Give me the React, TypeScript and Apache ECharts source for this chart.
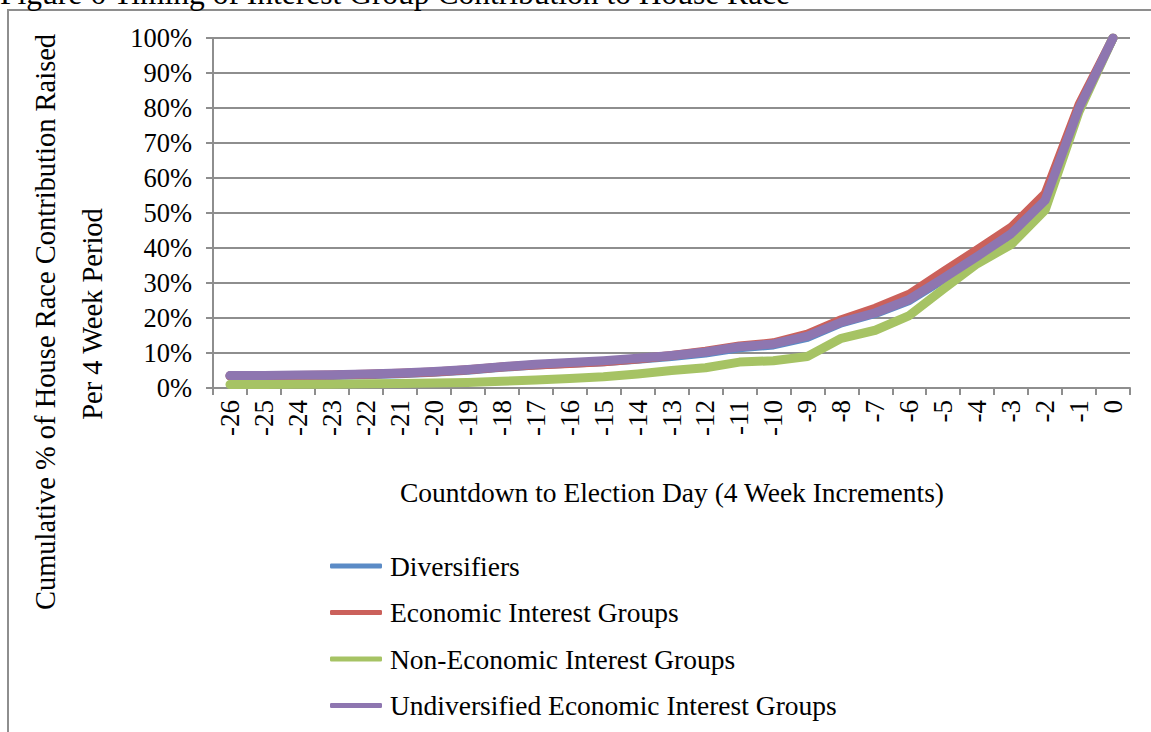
import React, { useEffect, useRef } from "react";
import * as echarts from "echarts";

// Countdown periods (4-week increments before election day)
const periods: string[] = [
  "-26", "-25", "-24", "-23", "-22", "-21", "-20", "-19", "-18", "-17", "-16", "-15", "-14",
  "-13", "-12", "-11", "-10", "-9", "-8", "-7", "-6", "-5", "-4", "-3", "-2", "-1", "0",
];

// Cumulative % of house race contributions raised
const diversifiers: number[] = [
  3.4, 3.4, 3.5, 3.6, 3.8, 4.1, 4.5, 5.1, 5.9, 6.6, 7.1, 7.5, 8.2, 9.0, 10.0, 11.5, 12.3,
  14.5, 18.6, 21.3, 25.0, 31.0, 37.3, 43.8, 53.3, 80, 100,
];
const economic: number[] = [
  3.5, 3.5, 3.6, 3.7, 3.9, 4.2, 4.6, 5.2, 6.0, 6.6, 7.0, 7.5, 8.3, 9.3, 10.5, 12.0, 12.9,
  15.4, 19.5, 22.8, 26.8, 33.2, 39.5, 45.9, 55.5, 81, 100,
];
const nonEconomic: number[] = [
  1.0, 1.0, 1.1, 1.1, 1.2, 1.3, 1.4, 1.6, 1.9, 2.3, 2.7, 3.2, 4.0, 5.0, 5.8, 7.4, 7.8,
  9.0, 14.2, 16.5, 20.7, 28.2, 35.5, 41.0, 50.8, 79, 100,
];
const undiversified: number[] = [
  3.6, 3.6, 3.7, 3.8, 4.0, 4.3, 4.7, 5.3, 6.1, 6.8, 7.3, 7.8, 8.5, 9.3, 10.3, 11.8, 12.6,
  14.8, 18.8, 21.5, 25.3, 31.3, 37.6, 44.1, 53.6, 80, 100,
];

const seriesNames: string[] = [
  "Diversifiers",
  "Economic Interest Groups",
  "Non-Economic Interest Groups",
  "Undiversified Economic Interest Groups",
];
const seriesColors: string[] = ["#5b8bc6", "#cb615b", "#a6c364", "#8e76b0"];

const FONT = "'Liberation Serif', 'Times New Roman', serif";
const GRAY = "#8e8e8e";

export default function App() {
  const ref = useRef<HTMLDivElement>(null);

  useEffect(() => {
    if (!ref.current) return;
    const chart = echarts.init(ref.current, undefined, { renderer: "svg" });
    const values = [diversifiers, economic, nonEconomic, undiversified];

    chart.setOption({
      animation: false,
      backgroundColor: "#ffffff",
      textStyle: { fontFamily: FONT, color: "#000" },
      grid: { left: 213, top: 38, width: 917, height: 350, containLabel: false },
      xAxis: {
        type: "category",
        data: periods,
        boundaryGap: true,
        axisLine: { show: true, lineStyle: { color: GRAY, width: 2 } },
        axisTick: { show: true, length: 7, lineStyle: { color: GRAY, width: 2 } },
        axisLabel: {
          rotate: 90,
          margin: 12,
          fontSize: 27,
          fontFamily: FONT,
          color: "#000",
          interval: 0,
        },
        splitLine: { show: false },
      },
      yAxis: {
        type: "value",
        min: 0,
        max: 100,
        interval: 10,
        axisLine: { show: true, lineStyle: { color: GRAY, width: 2 } },
        axisTick: { show: true, length: 7, lineStyle: { color: GRAY, width: 2 } },
        axisLabel: {
          formatter: "{value}%",
          margin: 21,
          fontSize: 26.5,
          fontFamily: FONT,
          color: "#000",
        },
        splitLine: { show: true, lineStyle: { color: GRAY, width: 2 } },
      },
      legend: {
        orient: "vertical",
        left: 330,
        top: 552,
        padding: 0,
        itemWidth: 52,
        itemHeight: 5,
        itemGap: 18.5,
        icon: "roundRect",
        data: seriesNames,
        textStyle: {
          fontFamily: FONT,
          fontSize: 27.5,
          lineHeight: 26,
          color: "#000",
          padding: [0, 0, 0, 3],
        },
      },
      series: seriesNames.map((name, i) => ({
        name,
        type: "line",
        data: values[i],
        showSymbol: false,
        symbol: "none",
        smooth: false,
        color: seriesColors[i],
        lineStyle: { width: 9, color: seriesColors[i], cap: "round", join: "round" },
        z: 2 + i,
      })),
      graphic: [
        {
          type: "rect",
          shape: { x: 8, y: 10, width: 1300, height: 900 },
          style: { fill: "none", stroke: GRAY, lineWidth: 2 },
          silent: true,
        },
        {
          type: "text",
          x: 0,
          y: 9,
          style: {
            text: "Figure 6 Timing of Interest Group Contribution to House Race",
            font: `31.5px ${FONT}`,
            fill: "#000",
            verticalAlign: "bottom",
          },
        },
        {
          type: "text",
          x: 45,
          y: 322,
          rotation: Math.PI / 2,
          style: {
            text: "Cumulative % of House Race Contribution Raised",
            font: `28.5px ${FONT}`,
            fill: "#000",
            align: "center",
            verticalAlign: "middle",
          },
        },
        {
          type: "text",
          x: 92,
          y: 314,
          rotation: Math.PI / 2,
          style: {
            text: "Per 4 Week Period",
            font: `28.5px ${FONT}`,
            fill: "#000",
            align: "center",
            verticalAlign: "middle",
          },
        },
        {
          type: "text",
          x: 672,
          y: 492,
          style: {
            text: "Countdown to Election Day (4 Week Increments)",
            font: `27.5px ${FONT}`,
            fill: "#000",
            align: "center",
            verticalAlign: "middle",
          },
        },
      ],
    });

    return () => chart.dispose();
  }, []);

  return (
    <div
      ref={ref}
      style={{ position: "fixed", left: 0, top: 0, width: 1151, height: 732, background: "#fff" }}
    />
  );
}
